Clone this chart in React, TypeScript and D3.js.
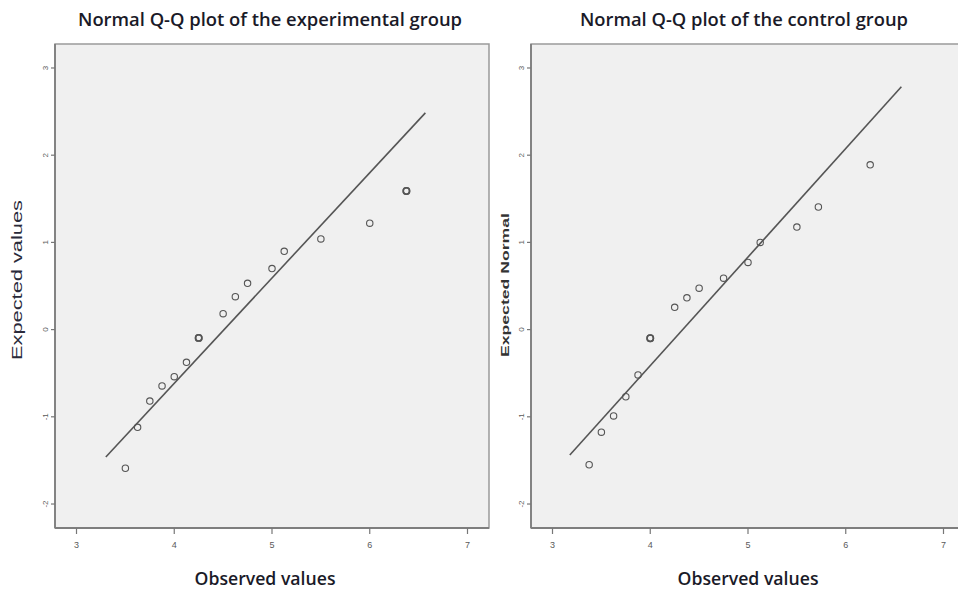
import React from "react";
import * as d3 from "d3";

// Experimental group: observed scores and their expected normal quantiles
const expObserved = [3.5, 3.625, 3.75, 3.875, 4.0, 4.125, 4.25, 4.5, 4.625, 4.75, 5.0, 5.125, 5.5, 6.0, 6.375];
const expExpected = [-1.59, -1.12, -0.82, -0.646, -0.54, -0.375, -0.095, 0.183, 0.378, 0.531, 0.70, 0.898, 1.04, 1.22, 1.59];
const expCount = [1, 1, 1, 1, 1, 1, 2, 1, 1, 1, 1, 1, 1, 1, 2];
// Reference line endpoints (observed, expected)
const expLineX = [3.3, 6.569];
const expLineY = [-1.46, 2.485];

// Control group
const ctlObserved = [3.375, 3.5, 3.625, 3.75, 3.875, 4.0, 4.25, 4.375, 4.5, 4.75, 5.0, 5.125, 5.5, 5.72, 6.25];
const ctlExpected = [-1.55, -1.176, -0.99, -0.77, -0.52, -0.10, 0.256, 0.364, 0.475, 0.59, 0.77, 1.0, 1.176, 1.406, 1.89];
const ctlCount = [1, 1, 1, 1, 1, 2, 1, 1, 1, 1, 1, 1, 1, 1, 1];
const ctlLineX = [3.177, 6.569];
const ctlLineY = [-1.437, 2.785];

const xTicks = [3, 4, 5, 6, 7];
const yTicks = [3, 2, 1, 0, -1, -2];

const titles = ["Normal Q-Q plot of the experimental group", "Normal Q-Q plot of the control group"];
const xLabel = "Observed values";
const yLabels = ["Expected values", "Expected Normal"];

const W = 958;
const H = 593;
const TOP = 44;
const BOTTOM = 528;
const PANEL_W = 434;

type PanelProps = {
  left: number;
  title: string;
  titleX: number;
  titleLen: number;
  xLabelX: number;
  yLabel: string;
  yLabelBold: boolean;
  observed: number[];
  expected: number[];
  counts: number[];
  lineX: number[];
  lineY: number[];
};

function Panel(p: PanelProps) {
  const x = d3.scaleLinear().domain([2.78, 7.22]).range([p.left, p.left + PANEL_W]);
  const y = d3.scaleLinear().domain([-2.275, 3.275]).range([BOTTOM, TOP]);
  const line = d3
    .line<number>()
    .x((_, i) => x(p.lineX[i]))
    .y((v) => y(v));
  const tickFont = "'Liberation Sans Narrow', 'Liberation Sans', Arial, sans-serif";
  const headFont = "'Open Sans', 'Noto Sans', sans-serif";

  return (
    <g>
      <text
        x={p.titleX}
        y={26}
        textAnchor="middle"
        fontFamily={headFont}
        fontWeight={600}
        fontSize={17.5}
        fill="#1a1a28"
        textLength={p.titleLen}
        lengthAdjust="spacingAndGlyphs"
      >
        {p.title}
      </text>

      <rect x={p.left} y={TOP} width={PANEL_W} height={BOTTOM - TOP} fill="#f0f0f0" stroke="#9a9a9a" strokeWidth={1.5} />
      <line x1={p.left} x2={p.left} y1={TOP} y2={BOTTOM} stroke="#7e7e7e" strokeWidth={1.8} />
      <line x1={p.left} x2={p.left + PANEL_W} y1={BOTTOM} y2={BOTTOM} stroke="#7e7e7e" strokeWidth={1.8} />

      {yTicks.map((t) => (
        <g key={`y${t}`}>
          <line x1={p.left - 4} x2={p.left} y1={y(t)} y2={y(t)} stroke="#777" strokeWidth={1.2} />
          <text
            transform={`translate(${p.left - 8},${y(t)}) rotate(-90)`}
            textAnchor="middle"
            dy="0.1em"
            fontFamily={tickFont}
            fontSize={8}
            fill="#5a5a5a"
          >
            {t}
          </text>
        </g>
      ))}

      {xTicks.map((t) => (
        <g key={`x${t}`}>
          <line x1={x(t)} x2={x(t)} y1={BOTTOM} y2={BOTTOM + 6} stroke="#777" strokeWidth={1.2} />
          <text x={x(t)} y={BOTTOM + 20} textAnchor="middle" fontFamily={tickFont} fontSize={9} fill="#5a5a5a">
            {t}
          </text>
        </g>
      ))}

      <path d={line(p.lineY) ?? ""} fill="none" stroke="#555" strokeWidth={1.6} />

      {p.observed.map((v, i) =>
        d3.range(p.counts[i]).map((k) => (
          <circle
            key={`p${i}-${k}`}
            cx={x(v)}
            cy={y(p.expected[i])}
            r={3.2}
            fill="none"
            stroke="#555"
            strokeWidth={p.counts[i] > 1 ? 1.5 : 1.1}
          />
        ))
      )}

      <text
        x={p.xLabelX}
        y={585}
        textAnchor="middle"
        fontFamily={headFont}
        fontWeight={600}
        fontSize={18}
        fill="#1a1a28"
        textLength={141}
        lengthAdjust="spacingAndGlyphs"
      >
        {xLabel}
      </text>

      {p.yLabelBold ? (
        <text
          transform={`translate(${p.left - 22},${285}) rotate(-90)`}
          textAnchor="middle"
          fontFamily="'Liberation Sans', Arial, sans-serif"
          fontWeight={700}
          fontSize={11}
          fill="#333"
          textLength={144}
          lengthAdjust="spacingAndGlyphs"
        >
          {p.yLabel}
        </text>
      ) : (
        <text
          transform={`translate(${p.left - 33},${280}) rotate(-90)`}
          textAnchor="middle"
          fontFamily="'Liberation Sans', Arial, sans-serif"
          fontSize={14.5}
          fill="#2a2a3a"
          textLength={160}
          lengthAdjust="spacingAndGlyphs"
        >
          {p.yLabel}
        </text>
      )}
    </g>
  );
}

export default function App() {
  return (
    <div style={{ position: "absolute", left: 0, top: 0, width: W, height: H, background: "#fff" }}>
      <svg width={W} height={H} style={{ display: "block" }}>
        <rect width={W} height={H} fill="#fff" />
        <Panel
          left={55}
          title={titles[0]}
          titleX={270}
          titleLen={384}
          xLabelX={265}
          yLabel={yLabels[0]}
          yLabelBold={false}
          observed={expObserved}
          expected={expExpected}
          counts={expCount}
          lineX={expLineX}
          lineY={expLineY}
        />
        <Panel
          left={531}
          title={titles[1]}
          titleX={744}
          titleLen={328}
          xLabelX={748}
          yLabel={yLabels[1]}
          yLabelBold={true}
          observed={ctlObserved}
          expected={ctlExpected}
          counts={ctlCount}
          lineX={ctlLineX}
          lineY={ctlLineY}
        />
      </svg>
    </div>
  );
}
